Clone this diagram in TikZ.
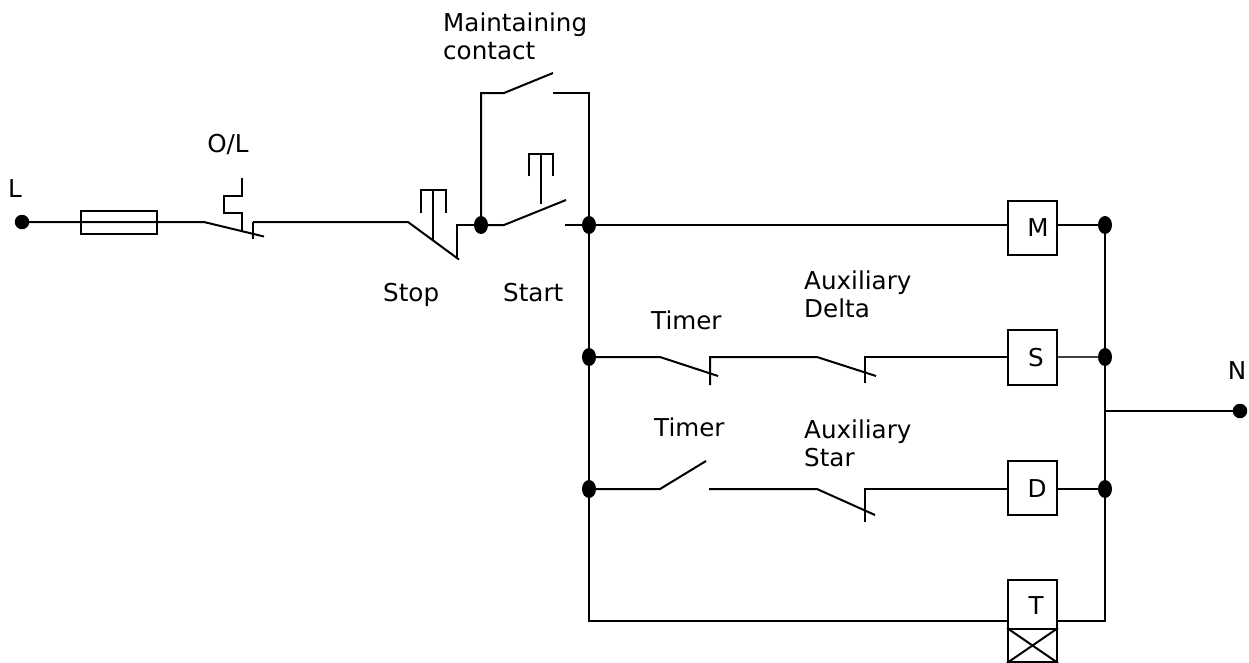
\documentclass[tikz,border=0pt]{standalone}
\usepackage{fontspec}
\setmainfont{DejaVu Sans}
\usetikzlibrary{shapes.geometric}
\tikzset{
  wire/.style={draw=black,line width=2pt,line cap=butt,line join=miter},
  thinwire/.style={draw=black!75,line width=1.3pt},
  dotnode/.style={shape=ellipse,fill=black,draw=none,inner sep=0pt,minimum width=14pt,minimum height=18pt},
  termnode/.style={shape=circle,fill=black,draw=none,inner sep=0pt,minimum size=14.5pt},
  coil/.style={shape=rectangle,draw=black,line width=2pt,fill=white,inner sep=0pt,minimum width=49pt},
  lab/.style={font=\fontsize{24.6}{28.5}\selectfont,text=black,inner sep=0pt,align=left}
}
\begin{document}
\begin{tikzpicture}[x=1pt,y=-1pt]
\useasboundingbox (0,0) rectangle (1249,662);
% junctions and terminals
\node[termnode] (L) at (22,222) {};
\node[termnode] (N) at (1240,411) {};
\node[dotnode] (jA) at (481,225) {};
\node[dotnode] (j1) at (589,225) {};
\node[dotnode] (j2) at (589,357) {};
\node[dotnode] (j3) at (589,489) {};
\node[dotnode] (r1) at (1105,225) {};
\node[dotnode] (r2) at (1105,357) {};
\node[dotnode] (r3) at (1105,489) {};
% coils
\node[coil,minimum height=54pt] (M) at (1032.5,228) {};
\node[coil,minimum height=55pt] (S) at (1032.5,357.5) {};
\node[coil,minimum height=54pt] (D) at (1032.5,488) {};
\node[coil,minimum height=49pt] (T) at (1032.5,604.5) {};
\node[coil,minimum height=33pt] (X) at (1032.5,645.5) {};
% fuse
\node[shape=rectangle,draw=black,line width=2pt,inner sep=0pt,minimum width=76pt,minimum height=23pt] (F) at (119,222.5) {};
% named points
\coordinate (olA) at (204,222);
\coordinate (olB) at (264,236.5);
\coordinate (olC) at (253,222);
\coordinate (stA) at (408,222);
\coordinate (stB) at (459,259.5);
\coordinate (stC) at (457,225);
\coordinate (saA) at (504,225);
\coordinate (saB) at (566,200);
\coordinate (saC) at (565,225);
\coordinate (maA) at (504,93);
\coordinate (maB) at (553,73);
\coordinate (maC) at (553,93);
\coordinate (t1A) at (660,357);
\coordinate (t1B) at (718,376);
\coordinate (t1C) at (710,357);
\coordinate (a1A) at (817,357);
\coordinate (a1B) at (876,376);
\coordinate (a1C) at (865,357);
\coordinate (t2A) at (660,489);
\coordinate (t2B) at (706,461);
\coordinate (t2C) at (709,489);
\coordinate (a2A) at (817,489);
\coordinate (a2B) at (875,515);
\coordinate (a2C) at (865,489);
\coordinate (tw) at (1105,621);
\coordinate (tw0) at (589,621);
\coordinate (nj) at (1105,411);
% line to overload
\draw[wire] (L.center) -- (olA) -- (olB);
\draw[wire] (olC) -- (253,239);
\draw[wire] (olC) -- (stA) -- (stB);
\draw[wire] (457,258) -- (stC) -- (jA.center);
% overload element
\draw[wire] (242,178) -- (242,196) -- (224,196) -- (224,213) -- (242,213) -- (242,232);
% stop button
\draw[wire] (433,240) -- (433,190);
\draw[wire] (421,213) -- (421,190) -- (446,190) -- (446,213);
% start contact and button
\draw[wire] (jA.center) -- (saA) -- (saB);
\draw[wire] (541,204) -- (541,154);
\draw[wire] (529,176) -- (529,154) -- (553,154) -- (553,176);
% maintaining contact
\draw[wire] (jA.center) -- (481,93) -- (maA) -- (maB);
\draw[wire] (maC) -- (589,93) -- (j1.center);
% main bus
\draw[wire] (saC) -- (j1.center) -- (M.west |- j1);
\draw[wire] (j1.center) -- (j2.center) -- (j3.center) -- (tw0) -- (T.west |- tw0);
% timer/delta rung
\draw[wire] (j2.center) -- (t1A) -- (t1B);
\draw[wire] (710,385) -- (t1C) -- (a1A) -- (a1B);
\draw[wire] (865,383) -- (a1C) -- (S.west |- a1C);
% timer/star rung
\draw[wire] (j3.center) -- (t2A) -- (t2B);
\draw[wire] (t2C) -- (a2A) -- (a2B);
\draw[wire] (865,522) -- (a2C) -- (D.west |- a2C);
% right bus
\draw[wire] (M.east |- r1) -- (r1.center);
\draw[thinwire] (S.east |- r2) -- (r2.west);
\draw[wire] (D.east |- r3) -- (r3.center);
\draw[wire] (T.east |- tw) -- (tw) -- (r3.center) -- (r2.center) -- (r1.center);
\draw[wire] (nj) -- (N.center);
% timer cross
\draw[wire] (X.north west) -- (X.south east);
\draw[wire] (X.north east) -- (X.south west);
% labels
\node[lab,anchor=base west] (tL) at (443,59.5) {Maintaining\\contact};
\node[lab,anchor=base] (tOL) at (228,152) {O/L};
\node[lab,anchor=base] (tLL) at (15,197) {L};
\node[lab,anchor=base west] (tStop) at (383,301) {Stop};
\node[lab,anchor=base west] (tStart) at (503,301) {Start};
\node[lab,anchor=base west] (tT1) at (651,329) {Timer};
\node[lab,anchor=base west] (tT2) at (654,436) {Timer};
\node[lab,anchor=base west] (tAD) at (804,317.5) {Auxiliary\\Delta};
\node[lab,anchor=base west] (tAS) at (804,466.5) {Auxiliary\\Star};
\node[lab,anchor=base] (tN) at (1237,379) {N};
\node[lab,anchor=base] (tM) at (1038,236) {M};
\node[lab,anchor=base] (tS) at (1036,366) {S};
\node[lab,anchor=base] (tD) at (1037,497) {D};
\node[lab,anchor=base] (tTT) at (1036,614) {T};
\end{tikzpicture}
\end{document}
